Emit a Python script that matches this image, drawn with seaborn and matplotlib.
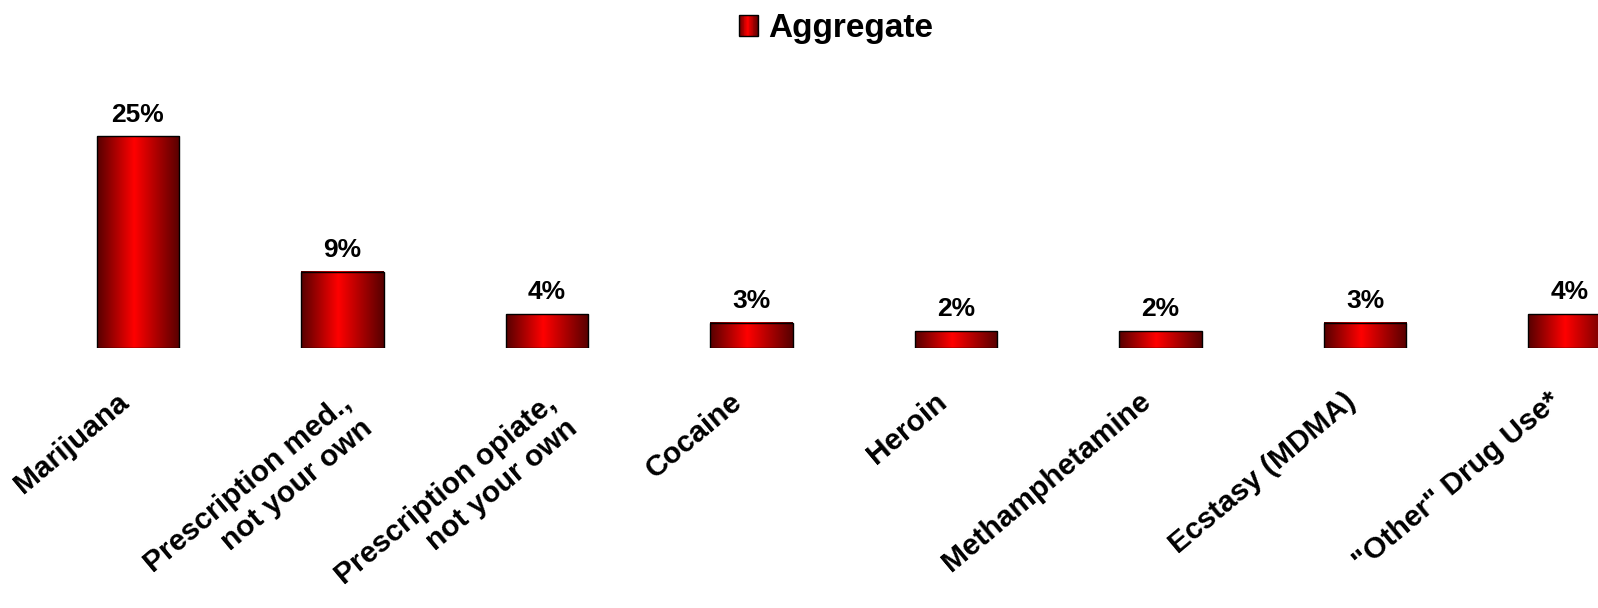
import numpy as np
import pandas as pd
import matplotlib
matplotlib.use('Agg')
import matplotlib.pyplot as plt
import matplotlib.transforms as mtransforms
import seaborn as sns
from matplotlib.colors import LinearSegmentedColormap
from matplotlib.patches import Rectangle
from matplotlib.legend_handler import HandlerBase

categories = ['Marijuana', 'Prescription med.,\nnot your own', 'Prescription opiate,\nnot your own',
              'Cocaine', 'Heroin', 'Methamphetamine', 'Ecstasy (MDMA)', '"Other" Drug Use*']
values = [25, 9, 4, 3, 2, 2, 3, 4]
value_labels = ['25%', '9%', '4%', '3%', '2%', '2%', '3%', '4%']
series_name = 'Aggregate'

sns.set_theme(style='white')
plt.rcParams['font.family'] = ['Liberation Sans', 'DejaVu Sans']
plt.rcParams['font.weight'] = 'bold'
plt.rcParams['text.color'] = 'black'

cmap = LinearSegmentedColormap.from_list(
    'grad', [(0, '#560000'), (0.45, '#ff0000'), (1, '#560000')])
grad = np.linspace(0, 1, 256).reshape(1, -1)

fig = plt.figure(figsize=(15.98, 6.08), dpi=100)
ax = fig.add_axes([0, 260 / 608, 1, 288 / 608])
df = pd.DataFrame({'cat': categories, 'val': values})
sns.barplot(data=df, x='cat', y='val', ax=ax, width=0.404, color='red',
            edgecolor='black', linewidth=1.0, saturation=1)

for p in ax.patches:
    x0, y0 = p.get_x(), p.get_y()
    w, h = p.get_width(), p.get_height()
    ax.imshow(grad, extent=[x0, x0 + w, y0, y0 + h], aspect='auto', cmap=cmap,
              zorder=2, interpolation='bilinear')
    p.set_facecolor('none')
    p.set_zorder(3)

ax.set_xlim(-138 / 204.5, (1598 - 138) / 204.5)
ax.set_ylim(0, 288 / 8.46)

ax.bar_label(ax.containers[0], labels=value_labels, padding=7,
             fontsize=19, fontweight='bold', color='black')

ax.set_xticks(range(len(categories)))
ax.set_xticklabels([])
ax.tick_params(axis='x', length=0)
for i, lab in enumerate(categories):
    two_line = '\n' in lab
    dx = 16 if two_line else -13
    dy = -64 if two_line else -50
    tr = mtransforms.offset_copy(ax.get_xaxis_transform(), fig=fig,
                                 x=dx, y=dy, units='dots')
    ax.text(i, 0, lab, transform=tr, rotation=40, ha='right', va='center',
            rotation_mode='anchor', multialignment='right', fontsize=21.5,
            fontweight='bold', color='black')

ax.set_yticks([])
ax.set_xlabel('')
ax.set_ylabel('')
for s in ax.spines.values():
    s.set_visible(False)


class GradHandler(HandlerBase):
    def create_artists(self, legend, orig, xd, yd, w, h, fontsize, trans):
        arts = []
        n = 24
        for i in range(n):
            r = Rectangle((-xd + w * i / n, -yd), w / n + 0.3, h,
                          facecolor=cmap((i + 0.5) / n), edgecolor='none',
                          transform=trans)
            arts.append(r)
        arts.append(Rectangle((-xd, -yd), w, h, facecolor='none',
                              edgecolor='black', linewidth=1.0, transform=trans))
        return arts


handle = Rectangle((0, 0), 1, 1)
leg = fig.legend(handles=[handle], labels=[series_name], loc='center',
                 bbox_to_anchor=(836 / 1598, 1 - 29 / 608), frameon=False,
                 prop={'weight': 'bold', 'size': 24}, handlelength=0.58,
                 handleheight=0.58, handletextpad=0.3,
                 handler_map={Rectangle: GradHandler()})
for t in leg.get_texts():
    t.set_color('black')

fig.savefig('out.png', dpi=100)
